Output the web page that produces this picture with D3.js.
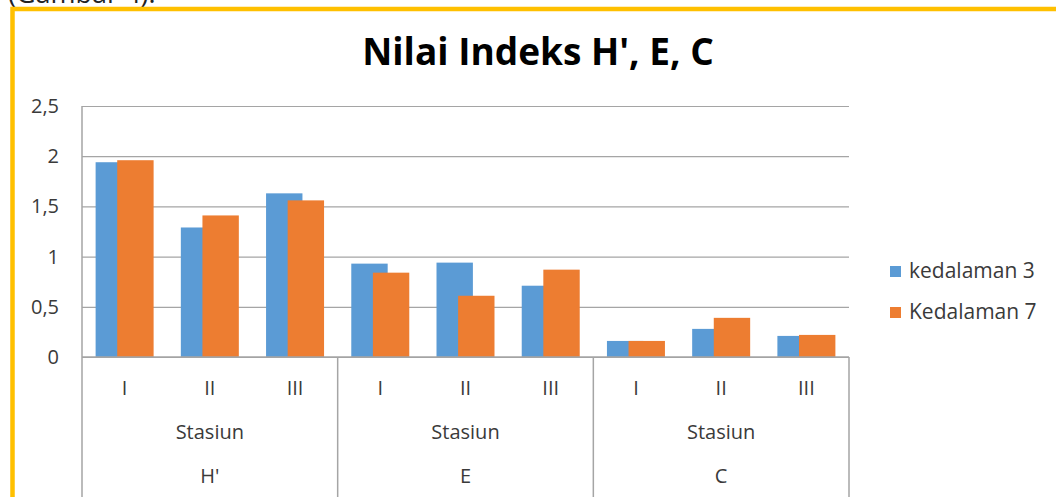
<!DOCTYPE html>
<html>
<head>
<meta charset="utf-8">
<script src="https://cdn.jsdelivr.net/npm/d3@7"></script>
<style>
  html, body { margin: 0; padding: 0; background: #fff; overflow: hidden; }
  svg { display: block; font-family: "Open Sans", sans-serif; }
</style>
</head>
<body>
<div id="chart"></div>
<script>
(function () {
  // ---------- data ----------
  var groups = ["H'", 'E', 'C'];
  var stations = ['I', 'II', 'III'];
  var seriesNames = ['kedalaman 3', 'Kedalaman 7'];
  var kedalaman3 = [1.94, 1.29, 1.63, 0.93, 0.94, 0.71, 0.16, 0.28, 0.21];
  var kedalaman7 = [1.96, 1.41, 1.56, 0.84, 0.61, 0.87, 0.16, 0.39, 0.22];
  var yTicks = [0, 0.5, 1, 1.5, 2, 2.5];

  var W = 1056, H = 497, TXT = '#3a3a3a', GRID = '#a5a5a5';
  var COLORS = ['#5b9bd5', '#ed7d31'];
  var m = { l: 82, r: 849, t: 106, b: 357 };

  var cats = [];
  groups.forEach(function (g) { stations.forEach(function (s) { cats.push({ g: g, s: s, key: g + '|' + s }); }); });
  var series = [kedalaman3, kedalaman7];

  var svg = d3.select('#chart').append('svg').attr('width', W).attr('height', H);

  // caption, cut off at the top of the page like in the source
  svg.append('text').attr('x', 8).attr('y', 3).attr('font-size', 27).attr('fill', '#222').text('(Gambar 4).');

  // yellow frame
  svg.append('rect').attr('x', 12.5).attr('y', 9).attr('width', W + 20).attr('height', H + 20)
    .attr('fill', '#fff').attr('stroke', '#ffc000').attr('stroke-width', 4.5);

  svg.append('text').attr('x', 538).attr('y', 65).attr('text-anchor', 'middle').attr('font-size', 37).attr('font-weight', 700)
    .attr('fill', '#000').text("Nilai Indeks H', E, C");

  var x0 = d3.scaleBand().domain(cats.map(function (d) { return d.key; })).range([m.l, m.r]);
  var y = d3.scaleLinear().domain([0, 2.5]).range([m.b, m.t]);
  var bw = x0.bandwidth() * 0.427, off = x0.bandwidth() * 0.2535;

  // gridlines + y labels
  svg.append('g').attr('transform', 'translate(' + m.l + ',0)')
    .call(d3.axisLeft(y).tickValues(yTicks).tickSize(-(m.r - m.l)).tickPadding(23)
      .tickFormat(function (d) { return String(d).replace('.', ','); }))
    .call(function (g) { g.select('.domain').remove(); })
    .call(function (g) { g.selectAll('line').attr('stroke', GRID).attr('stroke-width', 1.2); })
    .call(function (g) { g.selectAll('text').attr('fill', TXT).attr('font-size', 20).attr('font-family', '"Open Sans", sans-serif'); });

  // bars: blue first, orange overlaps it
  series.forEach(function (vals, si) {
    svg.append('g').selectAll('rect').data(cats).join('rect')
      .attr('x', function (d) { return x0(d.key) + x0.bandwidth() / 2 - bw / 2 - off / 2 + si * off; })
      .attr('y', function (d, i) { return y(vals[i]); })
      .attr('width', bw)
      .attr('height', function (d, i) { return y(0) - y(vals[i]); })
      .attr('fill', COLORS[si]);
  });

  // axis lines
  var ax = svg.append('g').attr('stroke', GRID).attr('stroke-width', 1.5);
  ax.append('line').attr('x1', m.l).attr('x2', m.r).attr('y1', y(0)).attr('y2', y(0));
  ax.append('line').attr('x1', m.l).attr('x2', m.l).attr('y1', m.t).attr('y2', H);
  groups.forEach(function (g) {
    var xr = x0(g + '|III') + x0.bandwidth();
    ax.append('line').attr('x1', xr).attr('x2', xr).attr('y1', y(0)).attr('y2', H);
  });

  // category labels
  var lab = svg.append('g').attr('fill', TXT).attr('font-size', 20).attr('text-anchor', 'middle');
  cats.forEach(function (d) {
    lab.append('text').attr('x', x0(d.key) + x0.bandwidth() / 2).attr('y', 388).attr('dy', '.35em').text(d.s);
  });
  groups.forEach(function (g) {
    var cx = x0(g + '|II') + x0.bandwidth() / 2;
    lab.append('text').attr('x', cx).attr('y', 432).attr('dy', '.35em').text('Stasiun');
    lab.append('text').attr('x', cx).attr('y', 476).attr('dy', '.35em').text(g);
  });

  // legend
  var lg = svg.append('g');
  seriesNames.forEach(function (n, i) {
    var ly = 271 + i * 41;
    lg.append('rect').attr('x', 890).attr('y', ly - 5).attr('width', 11).attr('height', 11).attr('fill', COLORS[i]);
    lg.append('text').attr('x', 909).attr('y', ly).attr('dy', '.35em').attr('font-size', 21).attr('fill', TXT).text(n);
  });
})();
</script>
</body>
</html>
